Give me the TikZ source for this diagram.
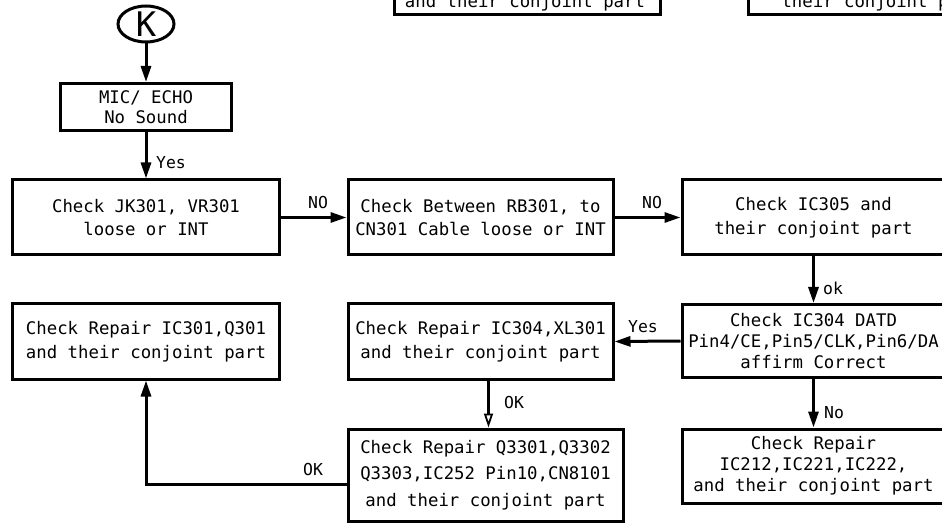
\documentclass[tikz,border=0pt]{standalone}
\usepackage{fontspec}
\setmainfont{DejaVu Sans Mono}
\usetikzlibrary{arrows.meta,shapes.geometric}
\begin{document}
\begin{tikzpicture}[x=1bp,y=-1bp,line width=3bp,
  box/.style={draw,rectangle,inner sep=0pt,align=center,font=\fontsize{17.4}{24}\selectfont},
  plaintext/.style={inner sep=0pt,font=\fontsize{17.4}{24}\selectfont},
  lbl/.style={inner sep=0pt,font=\fontsize{16.5}{18}\selectfont},
  arr/.style={-{Triangle[length=16bp,width=10bp]}},
  oarr/.style={-{Triangle[open,length=14bp,width=9bp,line width=1.8bp]}}]
\useasboundingbox (0,0) rectangle (942,526);
\clip (0,0) rectangle (942,526);
% partial boxes at top
\node[box,minimum width=266bp,minimum height=96bp,anchor=south] (T1) at (527.5,16) {};
\node[plaintext,anchor=base] (T1t) at (525,8) {and their conjoint part};
\node[box,minimum width=246bp,minimum height=96bp,anchor=south] (T2) at (871,16) {};
\node[plaintext,anchor=base west] (T2t) at (780,8) {their conjoint pa};
% start
\node[draw,ellipse,inner sep=0pt,minimum width=56bp,minimum height=36bp,font=\fontsize{34}{34}\selectfont] (K) at (146,24) {K};
\node[box,minimum width=171bp,minimum height=47bp,font=\fontsize{17.4}{20}\selectfont] (mic) at (146,107) {MIC/ ECHO\\No Sound};
% row 1
\node[box,minimum width=266bp,minimum height=75bp] (A) at (146,217.5) {Check JK301, VR301\\loose or INT};
\node[box,minimum width=265bp,minimum height=75bp] (B) at (480.5,217.5) {Check Between RB301, to\\CN301 Cable loose or INT};
\node[box,minimum width=263bp,minimum height=75bp] (C) at (813.5,217.5) {Check IC305 and\\their conjoint part};
% row 2
\node[box,minimum width=266bp,minimum height=75bp] (H) at (146,341.5) {Check Repair IC301,Q301\\and their conjoint part};
\node[box,minimum width=265bp,minimum height=75bp] (F) at (480.5,341.5) {Check Repair IC304,XL301\\and their conjoint part};
\node[box,minimum width=263bp,minimum height=73bp,font=\fontsize{17.4}{21.5}\selectfont] (D) at (813.5,341) {Check IC304 DATD\\Pin4/CE,Pin5/CLK,Pin6/DA\\affirm Correct};
% row 3
\node[box,minimum width=275bp,minimum height=92bp,font=\fontsize{17.4}{26.5}\selectfont] (G) at (485.5,475) {Check Repair Q3301,Q3302\\Q3303,IC252 Pin10,CN8101\\and their conjoint part};
\node[box,minimum width=263bp,minimum height=74bp,font=\fontsize{17.4}{21}\selectfont] (E) at (813.5,466) {Check Repair\\IC212,IC221,IC222,\\and their conjoint part};
% connectors
\draw[arr] (K.south) -- (mic.north);
\draw[arr] (mic.south) -- (A.north);
\draw[arr] (A.east) -- (B.west);
\draw[arr] (B.east) -- (C.west);
\draw[arr] (C.south) -- (D.north);
\draw[arr] (D.west) -- (F.east);
\draw[arr] (D.south) -- (E.north);
\draw[oarr] ([xshift=8bp]F.south) -- ([xshift=8bp]F.south |- G.north);
\draw[arr] ([yshift=-9bp]G.west) -| (H.south);
% labels
\node[lbl] (l1) at (171,163) {Yes};
\node[lbl] (l2) at (318,203) {NO};
\node[lbl] (l3) at (652,203) {NO};
\node[lbl] (l4) at (833,288) {ok};
\node[lbl] (l5) at (643,327) {Yes};
\node[lbl] (l6) at (834,413) {No};
\node[lbl] (l7) at (514,403) {OK};
\node[lbl] (l8) at (313,470) {OK};
\end{tikzpicture}
\end{document}
